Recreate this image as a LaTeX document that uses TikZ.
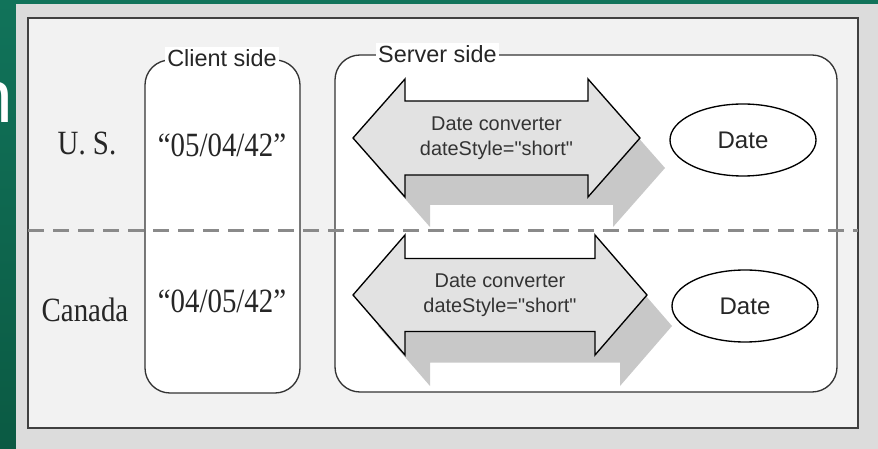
\documentclass[tikz,border=0pt]{standalone}
\usepackage{fontspec}
\setmainfont{Liberation Serif}[FakeStretch=0.85]
\setsansfont{Liberation Sans}[Ligatures=TeXOff]
\usepackage{tikz}
\usetikzlibrary{shapes.geometric}
\definecolor{vertfonce}{HTML}{0B5A43}
\definecolor{vertclair}{HTML}{0D8058}
\definecolor{verthaut}{HTML}{11735A}
\definecolor{grisfond}{HTML}{DCDCDC}
\definecolor{griscadre}{HTML}{F2F2F2}
\definecolor{grisfleche}{HTML}{E2E2E2}
\definecolor{grisombre}{HTML}{C8C8C8}
\definecolor{grispointille}{HTML}{8A8A8A}
\tikzstyle{boite}           =[draw=black!80, line width=0.4mm, fill=white, rounded corners=7.5mm]
\tikzstyle{etiquette}       =[fill=white, inner sep=0.6mm, text=black!85, font=\sffamily\fontsize{20}{24}\selectfont]
\tikzstyle{pays}            =[anchor=base, inner sep=0pt, text=black!85, font=\fontsize{29}{34}\selectfont]
\tikzstyle{fleche}          =[fill=grisfleche, draw=black, line width=0.4mm, line join=miter]
\tikzstyle{ombre}           =[fill=grisombre]
\tikzstyle{textefleche}     =[align=center, text=black!80, font=\sffamily\fontsize{17}{21}\selectfont]
\tikzstyle{objet}           =[draw, ellipse, line width=0.4mm, text=black!85, minimum width=43.8mm, minimum height=21.6mm, font=\sffamily\fontsize{20.5}{24}\selectfont]
% contour d'une flèche double centrée en (0,0)
\newcommand{\contourfleche}{(-\demilong,0) -- ({-\demilong+\tete},-\pointe) -- ({-\demilong+\tete},-\corps) -- ({\demilong-\tete},-\corps) -- ({\demilong-\tete},-\pointe) -- (\demilong,0) -- ({\demilong-\tete},\pointe) -- ({\demilong-\tete},\corps) -- ({-\demilong+\tete},\corps) -- ({-\demilong+\tete},\pointe) -- cycle}

\begin{document}
\begin{tikzpicture}[x=0.3mm,y=-0.3mm]
\useasboundingbox (0,0) rectangle (878,449);

%%%%%%%%%%%%%%%%%%%%%%%%
%fond de la diapositive
%%%%%%%%%%%%%%%%%%%%%%%%
\shade[top color=verthaut, middle color=vertclair, bottom color=vertfonce] (0,0) rectangle (878,449);
\node[white, anchor=base east, inner sep=0pt, font=\sffamily\fontsize{64}{64}\selectfont] (titre) at (13,123) {n};
\fill[grisfond] (16,4) rectangle (878,449);

%cadre du schéma
\draw[draw=black!75, line width=0.6mm, fill=griscadre] (28,18) rectangle (858,428);

%%%%%%%%%%%%%%%%%%%%%%%%
%côté client et côté serveur
%%%%%%%%%%%%%%%%%%%%%%%%
\draw[boite] (145,60) rectangle (300,393);
\node[etiquette] (client) at (222,58) {Client side};
\draw[boite] (335,55) rectangle (837,392);
\node[etiquette, anchor=west] (serveur) at (376,54) {Server side};

%les pays et les chaînes
\node[pays] (us) at (87,155) {U. S.};
\node[pays] (canada) at (85,322) {Canada};
\node[pays] (chaineUS) at (222,157) {“05/04/42”};
\node[pays] (chaineCA) at (222,313) {“04/05/42”};

%%%%%%%%%%%%%%%%%%%%%%%%
%les convertisseurs
%%%%%%%%%%%%%%%%%%%%%%%%
\begin{scope}[shift={(496.5,138)}] %convertisseur U. S.
\def\demilong{143.5} \def\tete{52} \def\corps{37} \def\pointe{59}
\fill[ombre, shift={(25,30)}] \contourfleche;
\draw[fleche] \contourfleche;
\node[textefleche] (convUS) at (0,0) {Date converter\\dateStyle="short"};
\end{scope}

\begin{scope}[shift={(500,295)}] %convertisseur Canada
\def\demilong{147} \def\tete{52} \def\corps{36.5} \def\pointe{60}
\fill[ombre, shift={(25,31)}] \contourfleche;
\draw[fleche] \contourfleche;
\node[textefleche] (convCA) at (0,0) {Date converter\\dateStyle="short"};
\end{scope}

%les objets Date
\node[objet] (objetUS) at (743,140) {Date};
\node[objet] (objetCA) at (745,306) {Date};

%séparation entre les deux pays
\coordinate (sepG) at (28,231);
\coordinate (sepD) at (858,231);
\draw[grispointille, line width=0.9mm, dash pattern=on 4.8mm off 2.7mm] (sepG) -- (sepD);

\end{tikzpicture}
\end{document}
